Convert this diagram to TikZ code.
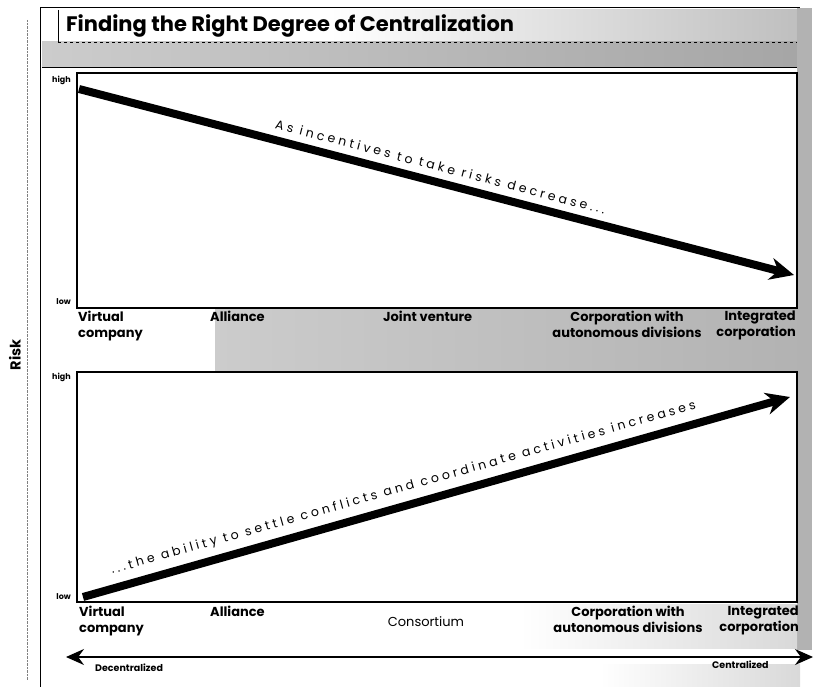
\documentclass[tikz,border=0pt]{standalone}
\usepackage{fontspec}
\setmainfont{Poppins}
\newfontfamily\spacedfont{Poppins}[LetterSpace=27]
\usetikzlibrary{arrows.meta}
\begin{document}
\begin{tikzpicture}[x=1pt,y=-1pt,
  frameline/.style={line width=1pt},
  panel/.style={line width=1.2pt},
  catlab/.style={font=\bfseries\fontsize{13}{16}\selectfont, inner sep=0pt},
  tick/.style={font=\bfseries\fontsize{8}{9}\selectfont, inner sep=0pt, anchor=east},
  bigarrow/.style={line width=8pt, -{Stealth[length=24pt,width=22pt]}},
  arrowtext/.style={font=\spacedfont\fontsize{12.5}{14}\selectfont, inner sep=0pt},
  axis/.style={line width=1.3pt, {Stealth[length=18pt,width=16pt]}-{Stealth[length=18pt,width=16pt]}},
  endlab/.style={font=\bfseries\fontsize{9.5}{11}\selectfont, inner sep=0pt, anchor=west}
]
\useasboundingbox (0,0) rectangle (814,687);
% tinted regions
\shade[left color=white, right color=gray!50] (330,10) rectangle (797,42);
\shade[left color=gray!40, right color=gray!70] (42,42) rectangle (797,67);
\fill[gray!60] (797,8) rectangle (812,650);
\shade[left color=gray!40, right color=gray!60] (215,309) rectangle (797,371);
\shade[left color=white, right color=gray!30] (520,604) rectangle (797,648);
\shade[left color=white, right color=gray!30] (600,664) rectangle (800,687);
% frame
\draw[frameline] (40,8) -- (800,8);
\draw[frameline] (40,8) -- (40,687);
\draw[line width=0.8pt] (58,10) -- (58,42);
\draw[densely dotted, gray] (27,20) -- (27,680);
\draw[line width=0.6pt, dashed] (58,42) -- (797,42);
\draw[line width=0.8pt] (42,67) -- (797,67);
% title
\node[font=\bfseries\fontsize{21}{24}\selectfont, anchor=west, inner sep=0pt] (title) at (66,26) {Finding the Right Degree of Centralization};
% Risk label
\node[font=\bfseries\fontsize{14.5}{16}\selectfont, rotate=90, inner sep=0pt] (risk) at (15,355) {Risk};
% top panel
\draw[panel] (77,73) rectangle (797,308);
\node[tick] (hi1) at (71,80) {high};
\node[tick] (lo1) at (71,302) {low};
\coordinate (t1) at (79,89);
\coordinate (t2) at (794,275);
\draw[bigarrow] (t1) -- node[pos=0.50, sloped, above=7pt, arrowtext] (txt1) {As incentives to take risks decrease...} (t2);
% top categories
\node[catlab, anchor=north west, align=left] (vc1) at (78,311) {Virtual\\company};
\node[catlab, anchor=north west] (al1) at (210,311) {Alliance};
\node[catlab, anchor=north west] (jv1) at (383,311) {Joint venture};
\node[catlab, anchor=north, align=center] (cw1) at (627,311) {Corporation with\\autonomous divisions};
\node[catlab, anchor=north east, align=right] (ic1) at (796,311) {Integrated\\corporation};
% bottom panel
\draw[panel] (77,372) rectangle (797,602);
\node[tick] (hi2) at (71,377) {high};
\node[tick] (lo2) at (71,597) {low};
\coordinate (b1) at (83,597);
\coordinate (b2) at (790,397);
\draw[bigarrow] (b1) -- node[pos=0.46, sloped, above=7pt, arrowtext] (txt2) {...the ability to settle conflicts and coordinate activities increases} (b2);
% bottom categories
\node[catlab, anchor=north west, align=left] (vc2) at (79,606) {Virtual\\company};
\node[catlab, anchor=north west] (al2) at (210,606) {Alliance};
\node[font=\fontsize{13}{15}\selectfont, inner sep=0pt] (cons) at (426,622) {Consortium};
\node[catlab, anchor=north, align=center] (cw2) at (628,606) {Corporation with\\autonomous divisions};
\node[catlab, anchor=north east, align=right] (ic2) at (799,606) {Integrated\\corporation};
% axis
\coordinate (ax1) at (66,657);
\coordinate (ax2) at (813,657);
\draw[axis] (ax1) -- (ax2);
\node[endlab] (dec) at (95,668) {Decentralized};
\node[endlab] (cen) at (712,665) {Centralized};
\end{tikzpicture}
\end{document}
